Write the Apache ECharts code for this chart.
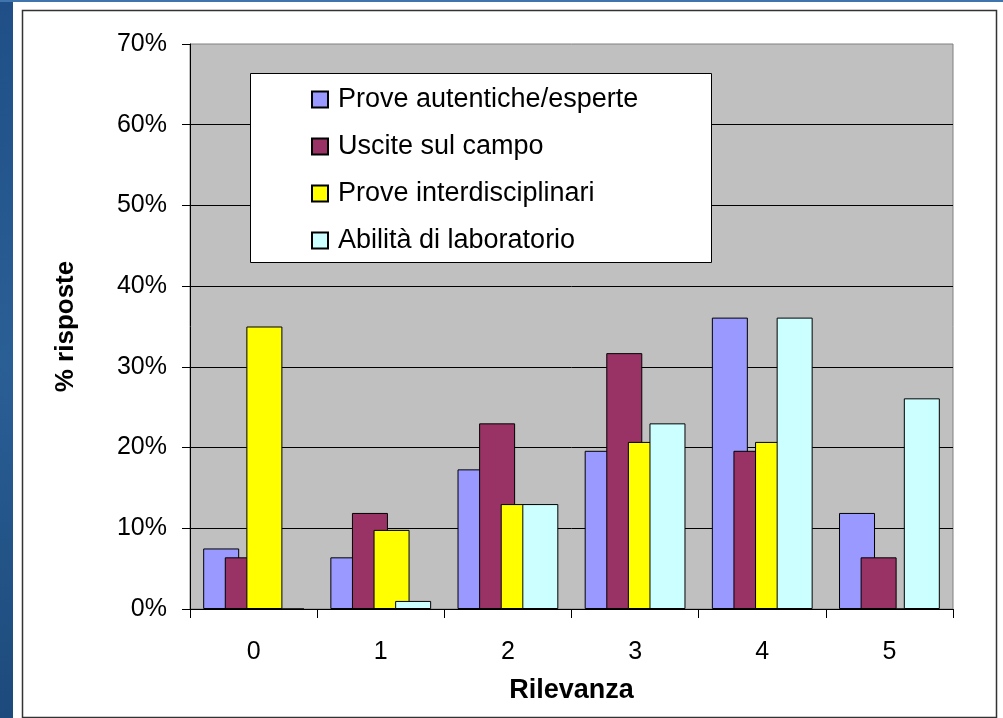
<!DOCTYPE html>
<html>
<head>
<meta charset="utf-8">
<script src="https://cdn.jsdelivr.net/npm/echarts@6/dist/echarts.min.js"></script>
<style>
html,body{margin:0;padding:0;background:#fff;}
#chart{width:1003px;height:718px;}
</style>
</head>
<body>
<div id="chart"></div>
<script>
const categories = ['0', '1', '2', '3', '4', '5'];
const seriesNames = ['Prove autentiche/esperte', 'Uscite sul campo', 'Prove interdisciplinari', 'Abilità di laboratorio'];
const proveAutentiche = [7.5, 6.4, 17.3, 19.6, 36.1, 11.9];
const usciteCampo = [6.4, 11.9, 23.0, 31.7, 19.6, 6.4];
const proveInterdisciplinari = [35.0, 9.8, 13.0, 20.7, 20.7, 0];
const abilitaLaboratorio = [0, 1.0, 13.0, 23.0, 36.1, 26.1];
const yTicks = [0, 10, 20, 30, 40, 50, 60, 70];

const seriesData = [proveAutentiche, usciteCampo, proveInterdisciplinari, abilitaLaboratorio];
const colors = ['#9999FF', '#993366', '#FFFF00', '#CCFFFF'];
const FONT = '"Liberation Sans", Arial, sans-serif';

const chart = echarts.init(document.getElementById('chart'), null, {renderer: 'canvas'});
chart.setOption({
  animation: false,
  backgroundColor: '#ffffff',
  textStyle: {fontFamily: FONT},
  graphic: [
    {type: 'rect', z: 0, shape: {x: 0, y: 0, width: 13, height: 718},
     style: {fill: new echarts.graphic.LinearGradient(0, 0, 1, 1, [
       {offset: 0, color: '#1f4f86'}, {offset: 0.5, color: '#2a5f96'}, {offset: 1, color: '#1d4a7c'}])}},
    {type: 'rect', z: 0, shape: {x: 0, y: 0, width: 1003, height: 2},
     style: {fill: '#3f74ad'}},
    {type: 'rect', z: 0, shape: {x: 22.5, y: 10.5, width: 974, height: 707},
     style: {fill: 'none', stroke: '#333333', lineWidth: 1.5}},
    {type: 'rect', z: 10, shape: {x: 250.5, y: 73.5, width: 461, height: 189},
     style: {fill: '#ffffff', stroke: '#000000', lineWidth: 1}}
  ],
  grid: {
    left: 190, right: 50, top: 44, bottom: 109,
    show: true, backgroundColor: '#C0C0C0', borderColor: '#808080', borderWidth: 1
  },
  legend: {
    z: 20,
    orient: 'vertical',
    left: 306, top: 81,
    itemWidth: 16, itemHeight: 16,
    itemGap: 20,
    icon: 'rect',
    textStyle: {fontFamily: FONT, fontSize: 27, color: '#000', lineHeight: 25, padding: [0, 0, 0, 5]},
    data: seriesNames
  },
  xAxis: {
    type: 'category',
    data: categories,
    name: 'Rilevanza',
    nameLocation: 'middle',
    nameGap: 68,
    nameTextStyle: {fontFamily: FONT, fontSize: 27, fontWeight: 'bold', color: '#000'},
    axisLine: {lineStyle: {color: '#000', width: 1}},
    axisTick: {show: true, length: 9, lineStyle: {color: '#000'}},
    axisLabel: {fontFamily: FONT, fontSize: 25, color: '#000', margin: 31}
  },
  yAxis: {
    type: 'value',
    min: 0, max: 70, interval: 10,
    name: '% risposte',
    nameLocation: 'middle',
    nameGap: 111,
    nameTextStyle: {fontFamily: FONT, fontSize: 26, fontWeight: 'bold', color: '#000'},
    axisLine: {show: true, lineStyle: {color: '#000', width: 1}},
    axisTick: {show: true, length: 8, lineStyle: {color: '#000'}},
    axisLabel: {fontFamily: FONT, fontSize: 25, color: '#000', margin: 23,
      formatter: function (v) { return yTicks.indexOf(v) >= 0 ? v + '%' : ''; }},
    splitLine: {show: true, showMaxLine: false, lineStyle: {color: '#000', width: 1}}
  },
  series: seriesData.map((d, i) => ({
    name: seriesNames[i],
    type: 'bar',
    data: d,
    barWidth: 36,
    barGap: '-40%',
    itemStyle: {color: colors[i], borderColor: '#000', borderWidth: 1}
  }))
});
</script>
</body>
</html>
